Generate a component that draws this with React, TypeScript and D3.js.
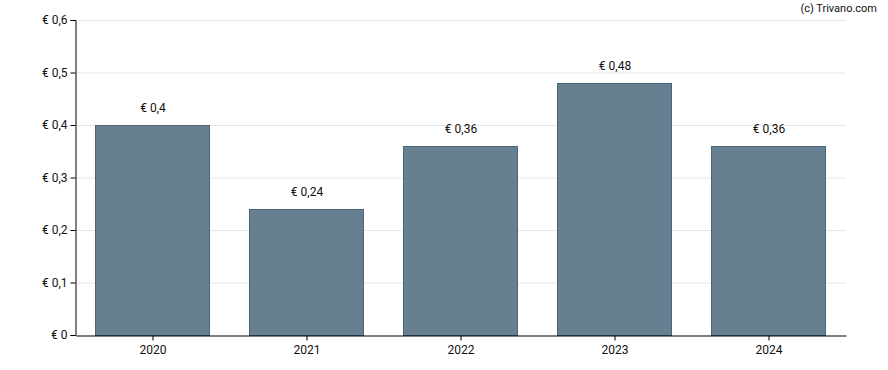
import React, { useEffect, useRef } from 'react';
import * as d3 from 'd3';

const years = ['2020', '2021', '2022', '2023', '2024'];
const dividends = [0.4, 0.24, 0.36, 0.48, 0.36];
const yTicks = [0, 0.1, 0.2, 0.3, 0.4, 0.5, 0.6];

const fmt = (v: number) => '€ ' + String(v).replace('.', ',');

const App: React.FC = () => {
  const svgRef = useRef<SVGSVGElement>(null);

  useEffect(() => {
    if (!svgRef.current) return;
    const width = 888;
    const height = 370;
    const margin = { top: 20, right: 42, bottom: 35, left: 76 };
    const innerW = width - margin.left - margin.right;
    const innerH = height - margin.top - margin.bottom;

    const root = d3.select(svgRef.current);
    root.selectAll('*').remove();
    root.attr('width', width).attr('height', height)
      .style('font-family', 'Roboto, Arial, sans-serif');

    const svg = root.append('g')
      .attr('transform', `translate(${margin.left},${margin.top})`);

    const x = d3.scaleBand()
      .domain(years)
      .range([0, innerW])
      .paddingInner(0.258)
      .paddingOuter(0.129);

    const y = d3.scaleLinear().domain([0, 0.6]).range([innerH, 0]);

    // grid
    svg.append('g')
      .selectAll('line')
      .data(yTicks.slice(1))
      .enter()
      .append('line')
      .attr('x1', 0)
      .attr('x2', innerW)
      .attr('y1', d => y(d) + 0.5)
      .attr('y2', d => y(d) + 0.5)
      .attr('stroke', '#e6e6e6')
      .attr('stroke-width', 1);

    // bars
    svg.append('g')
      .selectAll('rect')
      .data(dividends)
      .enter()
      .append('rect')
      .attr('x', (_, i) => Math.round(x(years[i]) as number) - 0.5)
      .attr('y', d => y(d) + 0.5)
      .attr('width', Math.round(x.bandwidth()))
      .attr('height', d => innerH - y(d))
      .attr('fill', '#667f91')
      .attr('stroke', '#4a6478')
      .attr('stroke-width', 1);

    // value labels
    svg.append('g')
      .selectAll('text')
      .data(dividends)
      .enter()
      .append('text')
      .attr('x', (_, i) => (x(years[i]) as number) + x.bandwidth() / 2)
      .attr('y', d => y(d) - 13)
      .attr('text-anchor', 'middle')
      .attr('font-size', 12)
      .attr('fill', '#111')
      .text(d => fmt(d));

    // y axis
    const yAxis = svg.append('g')
      .attr('transform', 'translate(-0.5,0)')
      .call(d3.axisLeft(y).tickValues(yTicks).tickSize(5).tickPadding(3).tickFormat(d => fmt(d as number)));
    yAxis.selectAll('text').attr('font-size', 12).attr('fill', '#111').style('font-family', 'Roboto, Arial, sans-serif');
    yAxis.selectAll('.domain').attr('stroke', '#000');
    yAxis.selectAll('.tick line').attr('stroke', '#000');

    // x axis
    const xAxis = svg.append('g')
      .attr('transform', `translate(0,${innerH + 0.5})`)
      .call(d3.axisBottom(x).tickSize(5).tickPadding(5).tickSizeOuter(0));
    xAxis.selectAll('text').attr('font-size', 12).attr('fill', '#111').style('font-family', 'Roboto, Arial, sans-serif');
    xAxis.selectAll('.domain').attr('stroke', '#000');
    xAxis.selectAll('.tick line').attr('stroke', '#000');

    root.append('text')
      .attr('x', 877)
      .attr('y', 12)
      .attr('text-anchor', 'end')
      .attr('font-size', 11)
      .attr('fill', '#111')
      .text('(c) Trivano.com');
  }, []);

  return (
    <div style={{ position: 'absolute', left: 0, top: 0 }}>
      <svg ref={svgRef}></svg>
    </div>
  );
};

export default App;
